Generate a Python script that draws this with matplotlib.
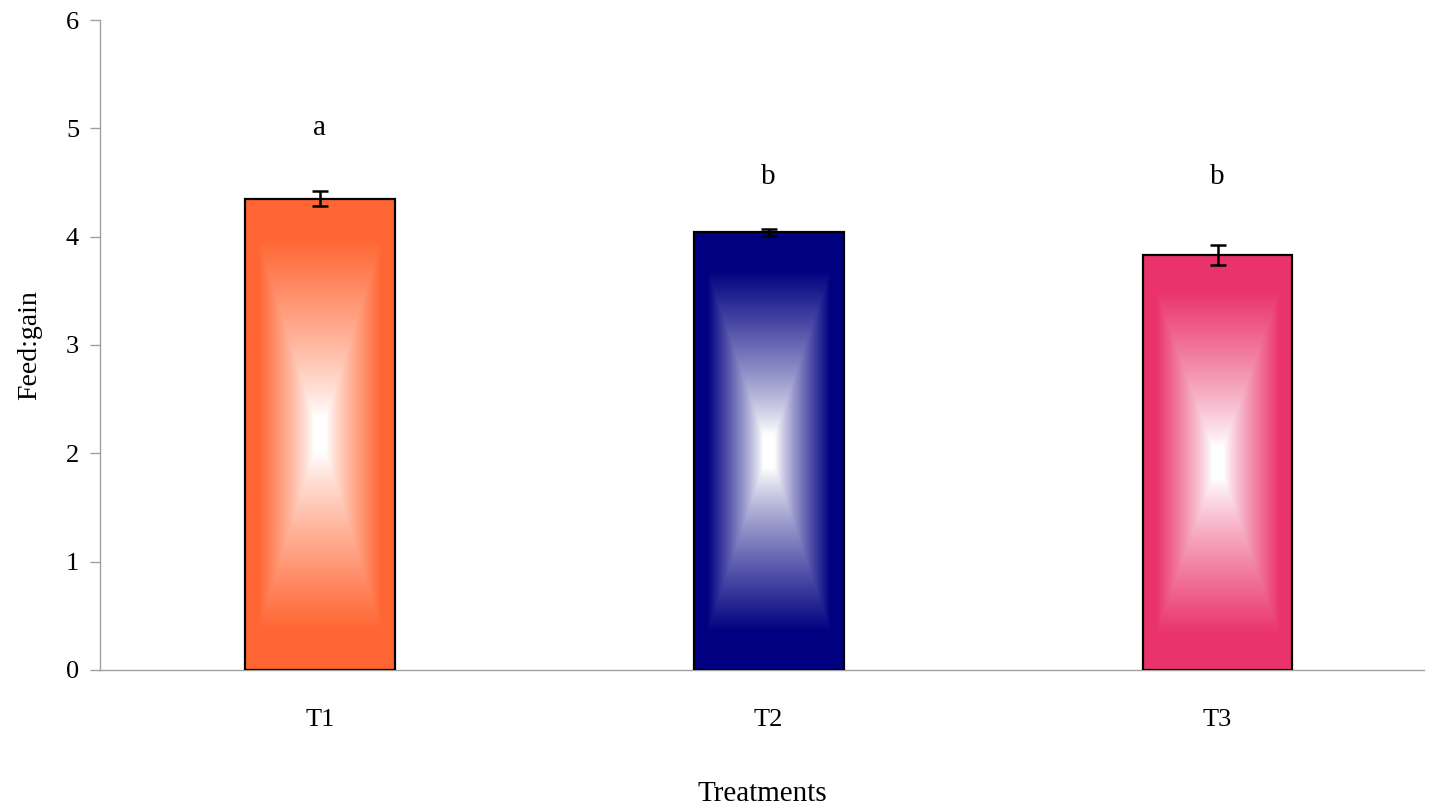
import numpy as np
import matplotlib
matplotlib.use("Agg")
import matplotlib.pyplot as plt
from matplotlib.colors import to_rgb

plt.rcParams['font.family'] = ['Liberation Serif', 'DejaVu Serif']

# feed:gain per treatment with standard errors
treatments = ["T1", "T2", "T3"]
feed_gain = [4.35, 4.04, 3.83]
sem = [0.07, 0.03, 0.09]
letters = ["a", "b", "b"]
letter_y = [5.0, 4.55, 4.55]
bar_colors = ["#FF6633", "#000080", "#EA336D"]


def center_gradient(color, ny=300, nx=120):
    # rectangular "from centre" fill: white in the middle, colour towards the edges
    yy, xx = np.mgrid[-1:1:ny * 1j, -1:1:nx * 1j]
    d = np.maximum(np.abs(xx), np.abs(yy))
    t = np.clip((d - 0.08) / 0.75, 0, 1) ** 0.85
    c = np.array(to_rgb(color))
    img = (1 - t[..., None]) * np.ones(3) + t[..., None] * c
    return img


fig = plt.figure(figsize=(14.34, 8.07), dpi=100)
ax = fig.add_axes([0.0697, 0.170, 0.9233, 0.805])

x = np.arange(len(treatments))
width = 0.334
bars = ax.bar(x, feed_gain, width=width, facecolor="none", edgecolor="black",
              linewidth=1.6, zorder=3)
for b, col in zip(bars, bar_colors):
    x0, w, h = b.get_x(), b.get_width(), b.get_height()
    im = ax.imshow(center_gradient(col), extent=(x0, x0 + w, 0, h),
                   aspect="auto", interpolation="bicubic", zorder=2)
    im.set_clip_path(b)

ax.errorbar(x, feed_gain, yerr=sem, fmt="none", ecolor="black",
            elinewidth=1.8, capsize=6, capthick=1.8, zorder=4)

for xi, lab, ly in zip(x, letters, letter_y):
    ax.text(xi, ly, lab, ha="center", va="center", fontsize=21)

ax.set_xlim(-0.49, 2.46)
ax.set_ylim(0, 6)
ax.set_yticks(range(0, 7))
ax.set_xticks(x)
ax.set_xticklabels(treatments)
ax.tick_params(axis="y", length=7, width=1, color="#a0a0a0", labelsize=19, pad=8)
ax.tick_params(axis="x", length=0, labelsize=19, pad=28)

for s in ["top", "right"]:
    ax.spines[s].set_visible(False)
for s in ["left", "bottom"]:
    ax.spines[s].set_color("#a0a0a0")
    ax.spines[s].set_linewidth(1)

ax.set_ylabel("Feed:gain", fontsize=20, labelpad=17)
ax.set_xlabel("Treatments", fontsize=21, labelpad=36)

fig.savefig("out.png", dpi=100)
